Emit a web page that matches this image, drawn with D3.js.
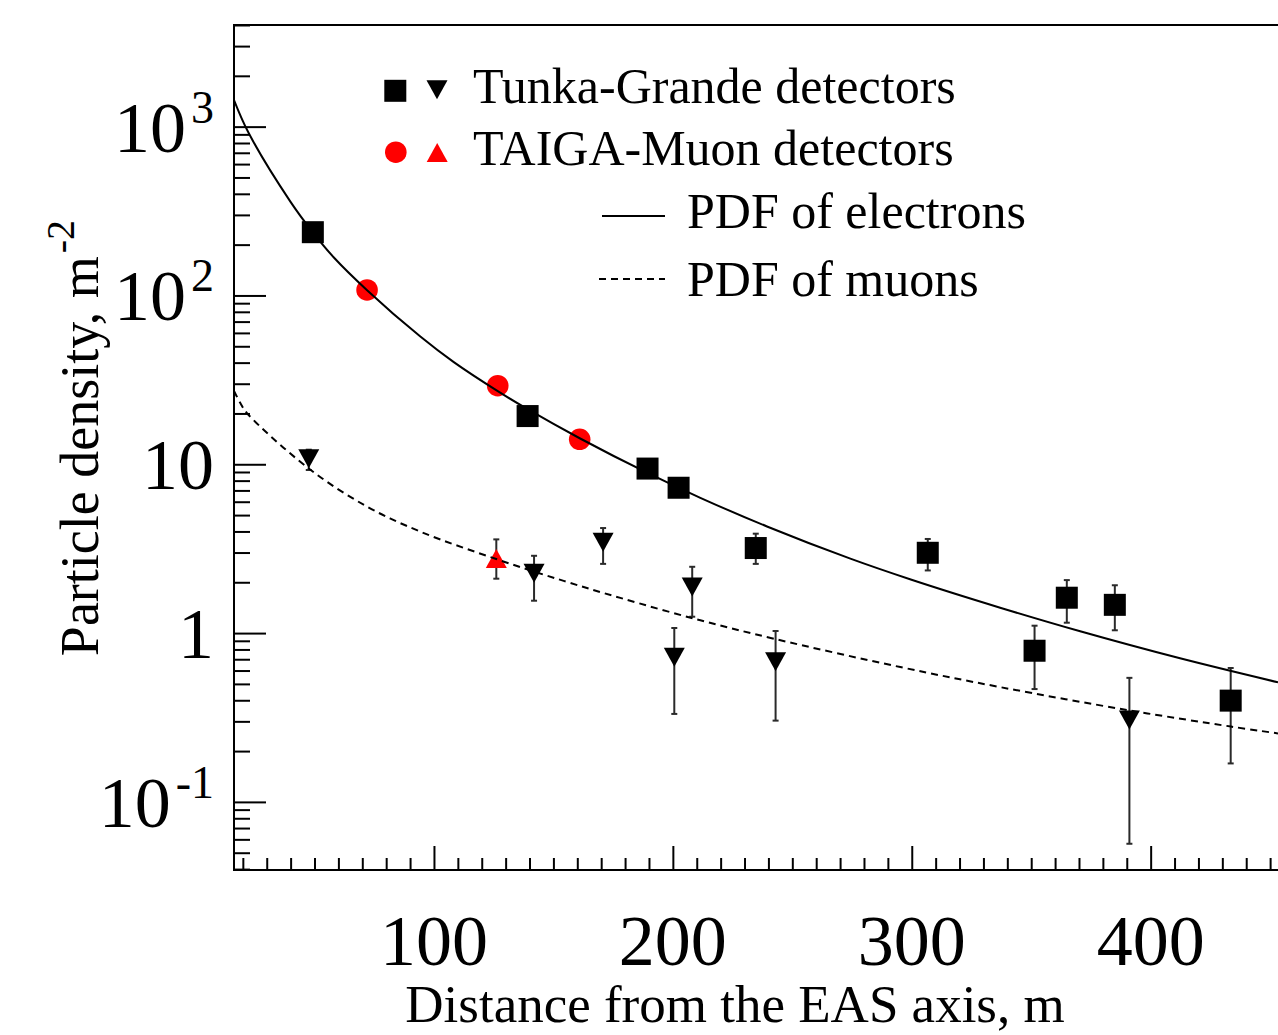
<!DOCTYPE html>
<html>
<head>
<meta charset="utf-8">
<script src="https://cdn.jsdelivr.net/npm/d3@7"></script>
<style>
  html, body { margin: 0; padding: 0; background: #fff; }
  svg { display: block; font-family: "Liberation Serif", "Times New Roman", serif; }
</style>
</head>
<body>
<svg id="chart" width="1278" height="1035"></svg>
<script>
// ---- Tunka-Grande: electron densities (squares) ----
const tgElDist = [49.3, 139.2, 189.4, 202.4, 234.7, 306.7, 351.4, 364.9, 385.0, 433.5];
const tgElDens = [237, 19.3, 9.43, 7.26, 3.19, 2.99, 0.786, 1.62, 1.47, 0.398];
const tgElLo   = [null, null, null, null, 2.57, 2.35, 0.466, 1.152, 1.039, 0.169];
const tgElHi   = [null, null, null, null, 3.88, 3.61, 1.106, 2.06, 1.92, 0.621];

// ---- Tunka-Grande: muon densities (down triangles) ----
const tgMuDist = [47.6, 141.9, 170.8, 208.1, 200.6, 243.0, 391.1];
const tgMuDens = [10.8, 2.26, 3.45, 1.875, 0.719, 0.677, 0.3055];
const tgMuLo   = [9.25, 1.555, 2.57, 1.25, 0.332, 0.303, 0.0565];
const tgMuHi   = [12.2, 2.87, 4.19, 2.47, 1.072, 1.029, 0.543];

// ---- TAIGA-Muon: electron densities (circles) ----
const tmElDist = [72.0, 126.7, 161.0];
const tmElDens = [107.8, 29.2, 14.06];

// ---- TAIGA-Muon: muon densities (up triangles) ----
const tmMuDist = [126.1];
const tmMuDens = [2.77];
const tmMuLo   = [2.10];
const tmMuHi   = [3.59];

// ---- Lateral distribution functions ----
const pdfElDist = [16.3, 22.5, 39.9, 49.3, 58.1, 72.0, 94.3, 108.3, 126.7, 139.2, 161.0, 189.6, 211.5, 239.4, 274.3, 299.9, 337.0, 370.5, 412.3, 453.3];
const pdfElDens = [1438, 913, 359.7, 236.6, 167.9, 107.5, 57.06, 40.25, 27.1, 21.2, 14.26, 8.85, 6.33, 4.28, 2.76, 2.07, 1.414, 1.025, 0.709, 0.511];
const pdfMuDist = [16.3, 19.0, 21.8, 47.6, 72.0, 94.3, 126.4, 154.3, 178.0, 211.5, 242.3, 295.2, 337.0, 391.4, 433.6, 453.3];
const pdfMuDens = [27.2, 22.97, 20.04, 9.44, 5.61, 3.99, 2.735, 2.038, 1.616, 1.19, 0.926, 0.629, 0.4786, 0.3478, 0.2794, 0.2545];

// ---- Axis ticks and labels ----
const xTickValues = [100, 200, 300, 400];
const xTickLabels = ["100", "200", "300", "400"];
const yTickValues = [0.1, 1, 10, 100, 1000];
const yTickBase   = ["10", "1", "10", "10", "10"];
const yTickExp    = ["-1", "", "", "2", "3"];

const legendEntries = ["Tunka-Grande detectors", "TAIGA-Muon detectors", "PDF of electrons", "PDF of muons"];

// ---- Frame geometry ----
const frameL = 234, frameT = 25, frameB = 870, frameR = 1294;

const svg = d3.select("#chart");

const x = d3.scaleLinear().domain([16.3, 460]).range([frameL, frameR]);
const y = d3.scaleLog().domain([0.0395, 4000]).range([frameB, frameT]);

svg.append("defs").append("clipPath").attr("id", "plotClip")
  .append("rect").attr("x", frameL).attr("y", frameT)
  .attr("width", frameR - frameL).attr("height", frameB - frameT);

// ---- Ticks (drawn inward, ROOT style) ----
const xMinor = d3.range(20, 460, 10).filter(v => v % 100 !== 0);
function tickGroup(axis, tx, ty) {
  const g = svg.append("g").attr("transform", `translate(${tx},${ty})`).call(axis);
  g.select(".domain").remove();
  g.selectAll("line").attr("stroke", "#000").attr("stroke-width", 2);
  return g;
}
tickGroup(d3.axisBottom(x).tickValues(xMinor).tickSize(-12).tickFormat(""), 0, frameB);
tickGroup(d3.axisBottom(x).tickValues(xTickValues).tickSize(-24).tickFormat(""), 0, frameB);

const yMinor = [];
[0.01, 0.1, 1, 10, 100, 1000].forEach(d => {
  for (let k = 2; k <= 9; k++) {
    const v = k * d;
    if (v >= y.domain()[0] && v <= y.domain()[1]) yMinor.push(v);
  }
});
tickGroup(d3.axisLeft(y).tickValues(yMinor).tickSize(-16).tickFormat(""), frameL, 0);
tickGroup(d3.axisLeft(y).tickValues(yTickValues).tickSize(-32).tickFormat(""), frameL, 0);

// ---- Frame ----
svg.append("path")
  .attr("d", `M${frameR},${frameT}H${frameL}V${frameB}H${frameR}`)
  .attr("fill", "none").attr("stroke", "#000").attr("stroke-width", 2);

// ---- Tick labels ----
svg.append("g").selectAll("text").data(xTickValues).join("text")
  .attr("x", d => x(d)).attr("y", 965)
  .attr("text-anchor", "middle").attr("font-size", 72)
  .text((d, i) => xTickLabels[i]);

const yLab = svg.append("g").selectAll("text").data(yTickValues).join("text")
  .attr("x", 214).attr("y", d => y(d) + 25)
  .attr("text-anchor", "end").attr("font-size", 72);
yLab.append("tspan").text((d, i) => yTickBase[i]);
yLab.filter((d, i) => yTickExp[i] !== "")
  .append("tspan").attr("dx", 5).attr("dy", -29).attr("font-size", 46)
  .text(d => yTickExp[yTickValues.indexOf(d)]);

// ---- Axis titles ----
svg.append("text").attr("x", 735).attr("y", 1022).attr("text-anchor", "middle")
  .attr("font-size", 53).text("Distance from the EAS axis, m");

const yTitle = svg.append("text").attr("transform", "translate(98,438) rotate(-90)")
  .attr("text-anchor", "middle").attr("font-size", 54);
yTitle.append("tspan").text("Particle density, m");
yTitle.append("tspan").attr("dx", 3).attr("dy", -24).attr("font-size", 40).text("-2");

// ---- Error bars ----
const plot = svg.append("g").attr("clip-path", "url(#plotClip)");
function errorBars(dist, lo, hi) {
  const rows = dist.map((d, i) => ({ d, lo: lo[i], hi: hi[i] })).filter(r => r.lo != null);
  const g = plot.append("g").attr("stroke", "#2a2a2a").attr("stroke-width", 2);
  g.selectAll("line.v").data(rows).join("line").attr("class", "v")
    .attr("x1", r => x(r.d)).attr("x2", r => x(r.d))
    .attr("y1", r => y(r.lo)).attr("y2", r => y(r.hi));
  g.selectAll("line.lo").data(rows).join("line").attr("class", "lo")
    .attr("x1", r => x(r.d) - 3).attr("x2", r => x(r.d) + 3)
    .attr("y1", r => y(r.lo)).attr("y2", r => y(r.lo));
  g.selectAll("line.hi").data(rows).join("line").attr("class", "hi")
    .attr("x1", r => x(r.d) - 3).attr("x2", r => x(r.d) + 3)
    .attr("y1", r => y(r.hi)).attr("y2", r => y(r.hi));
}
errorBars(tgElDist, tgElLo, tgElHi);
errorBars(tgMuDist, tgMuLo, tgMuHi);
errorBars(tmMuDist, tmMuLo, tmMuHi);

// ---- Marker shapes ----
const SQ = 22, TW = 21, TH = 19, CR = 10.8;
const triDown = (cx, cy) => `M${cx - TW / 2},${cy - TH / 2}L${cx + TW / 2},${cy - TH / 2}L${cx},${cy + TH / 2}Z`;
const triUp = (cx, cy) => `M${cx - TW / 2},${cy + TH / 2}L${cx + TW / 2},${cy + TH / 2}L${cx},${cy - TH / 2}Z`;

plot.append("g").selectAll("rect").data(tgElDist).join("rect")
  .attr("x", d => x(d) - SQ / 2).attr("y", (d, i) => y(tgElDens[i]) - SQ / 2)
  .attr("width", SQ).attr("height", SQ).attr("fill", "#000");

plot.append("g").selectAll("path").data(tgMuDist).join("path")
  .attr("d", (d, i) => triDown(x(d), y(tgMuDens[i]))).attr("fill", "#000");

plot.append("g").selectAll("circle").data(tmElDist).join("circle")
  .attr("cx", d => x(d)).attr("cy", (d, i) => y(tmElDens[i])).attr("r", CR).attr("fill", "#ff0000");

plot.append("g").selectAll("path").data(tmMuDist).join("path")
  .attr("d", (d, i) => triUp(x(d), y(tmMuDens[i]))).attr("fill", "#ff0000");

// ---- PDF curves ----
const line = d3.line().x(p => x(p[0])).y(p => y(p[1])).curve(d3.curveCatmullRom.alpha(0.5));
plot.append("path").datum(pdfElDist.map((d, i) => [d, pdfElDens[i]]))
  .attr("d", line).attr("fill", "none").attr("stroke", "#000").attr("stroke-width", 2);
plot.append("path").datum(pdfMuDist.map((d, i) => [d, pdfMuDens[i]]))
  .attr("d", line).attr("fill", "none").attr("stroke", "#000").attr("stroke-width", 2)
  .attr("stroke-dasharray", "7,5");

// ---- Legend ----
const leg = svg.append("g").attr("font-size", 50);
leg.append("rect").attr("x", 395.3 - 11).attr("y", 90.8 - 11).attr("width", 22).attr("height", 22).attr("fill", "#000");
leg.append("path").attr("d", triDown(437, 89.7)).attr("fill", "#000");
leg.append("circle").attr("cx", 395.8).attr("cy", 152.2).attr("r", 10.8).attr("fill", "#ff0000");
leg.append("path").attr("d", triUp(437.2, 152.5)).attr("fill", "#ff0000");
leg.append("line").attr("x1", 602).attr("x2", 665).attr("y1", 216).attr("y2", 216)
  .attr("stroke", "#000").attr("stroke-width", 2);
leg.append("line").attr("x1", 599).attr("x2", 665).attr("y1", 279).attr("y2", 279)
  .attr("stroke", "#000").attr("stroke-width", 2).attr("stroke-dasharray", "7,5");
const legPos = [[473, 103], [473, 165], [687, 228], [687, 296]];
leg.selectAll("text").data(legendEntries).join("text")
  .attr("x", (d, i) => legPos[i][0]).attr("y", (d, i) => legPos[i][1]).text(d => d);
</script>
</body>
</html>
